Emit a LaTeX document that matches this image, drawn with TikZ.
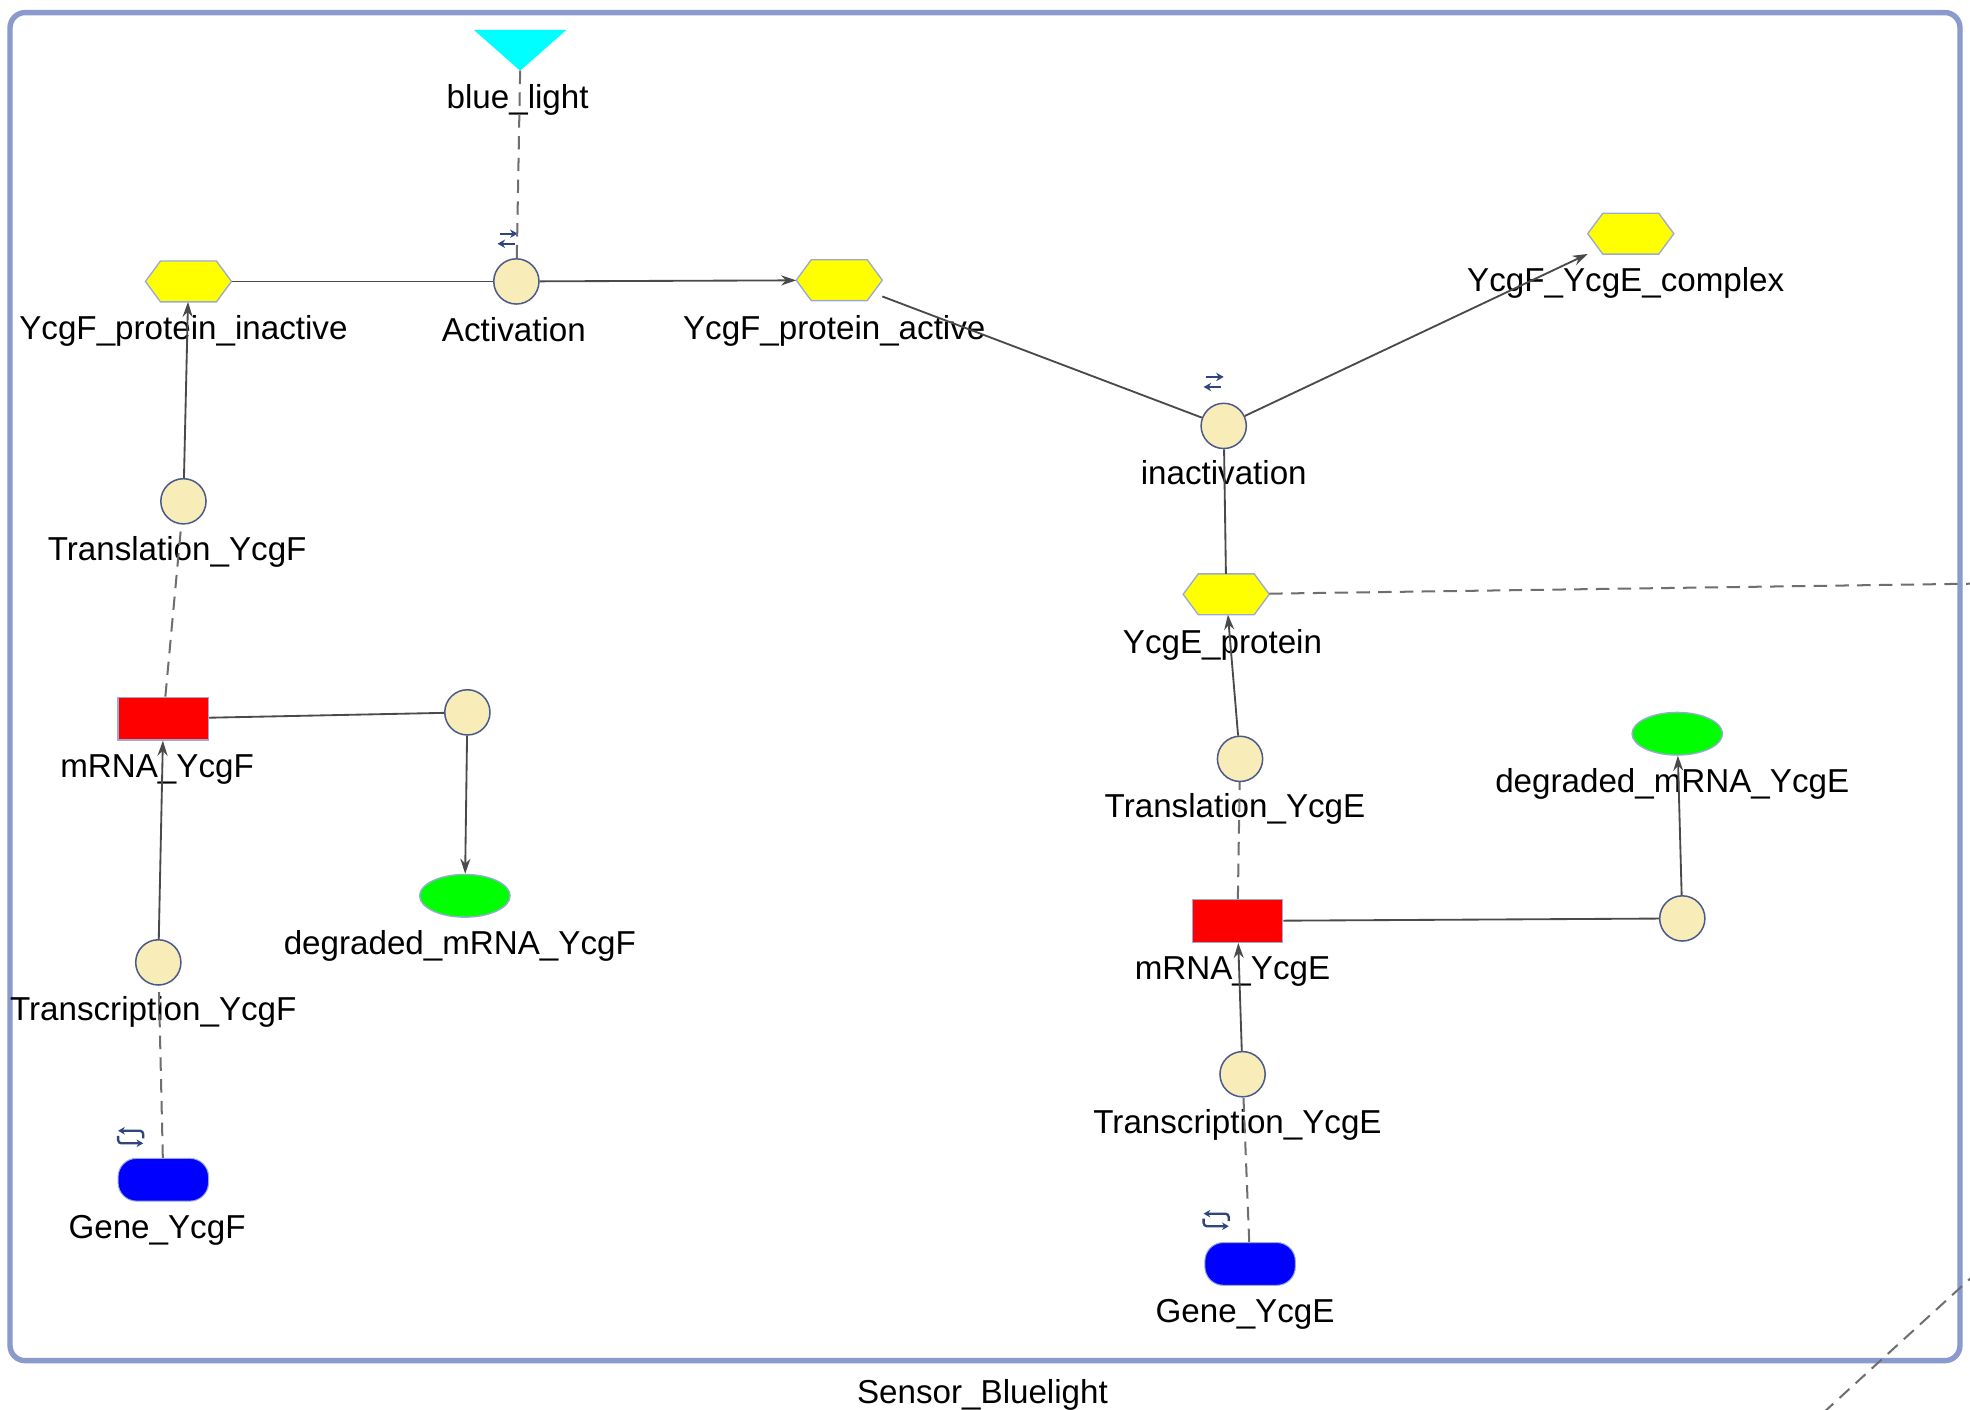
\documentclass[tikz,border=0pt]{standalone}
\usepackage{fontspec}
\setmainfont{Liberation Sans}
\usetikzlibrary{shapes.geometric,arrows.meta}
\definecolor{procfill}{HTML}{F8EDB8}
\definecolor{procborder}{HTML}{4A5A8C}
\definecolor{lightborder}{HTML}{9AAAD8}
\definecolor{edgegray}{HTML}{4A4A4A}
\definecolor{dashgray}{HTML}{6E6E6E}
\definecolor{compborder}{HTML}{8A9ACC}
\definecolor{iconblue}{HTML}{2E4580}
\definecolor{hexyellow}{HTML}{FFFF00}
\definecolor{mrnared}{HTML}{FF0000}
\definecolor{degrgreen}{HTML}{00FF00}
\definecolor{geneblue}{HTML}{0000FF}
\definecolor{lightcyan}{HTML}{00FFFF}
\tikzset{
  proc/.style={circle, draw=procborder, fill=procfill, line width=0.9pt, minimum size=27pt, inner sep=0pt},
  hexbox/.style={rectangle, minimum width=51pt, minimum height=24pt, inner sep=0pt},
  hexline/.style={draw=lightborder, fill=hexyellow, line width=0.8pt},
  mrna/.style={rectangle, draw=lightborder, fill=mrnared, line width=0.8pt, minimum width=54pt, minimum height=25.5pt, inner sep=0pt},
  degr/.style={ellipse, draw=lightborder, fill=degrgreen, line width=0.8pt, minimum width=54pt, minimum height=25.5pt, inner sep=0pt},
  genebox/.style={rectangle, rounded corners=11pt, draw=lightborder, fill=geneblue, line width=0.6pt, minimum width=54pt, minimum height=25.5pt, inner sep=0pt},
  trianglebox/.style={rectangle, minimum width=55pt, minimum height=24pt, inner sep=0pt},
  lbl/.style={font=\fontsize{19.8}{22}\selectfont, text=black, inner sep=0pt, anchor=base},
  flow/.style={draw=edgegray, line width=1.1pt},
  prod/.style={flow, -{Stealth[length=9pt,width=6pt]}},
  modif/.style={draw=dashgray, line width=1.2pt, dash pattern=on 8pt off 5pt},
  iconst/.style={draw=iconblue, line width=1.4pt},
}
\newcommand{\hexat}[2]{%
  \node[hexbox] (#1) at (#2) {};
  \path[hexline] (#1.west) -- ([xshift=9pt]#1.north west) -- ([xshift=-9pt]#1.north east)
     -- (#1.east) -- ([xshift=-9pt]#1.south east) -- ([xshift=9pt]#1.south west) -- cycle;}
\newcommand{\revicon}[1]{%
  \begin{scope}[shift={(#1)}]
    \draw[iconst, -{Stealth[length=4.5pt,width=5pt]}] (-6,-4) -- (8,-4);
    \draw[iconst, -{Stealth[length=4.5pt,width=5pt]}] (6,4) -- (-8,4);
  \end{scope}}
\newcommand{\geneicon}[1]{%
  \begin{scope}[shift={(#1)}]
    \draw[iconst, rounded corners=2pt, -{Stealth[length=4pt,width=4.5pt]}] (10,1) -- (10,-5) -- (-10,-5);
    \draw[iconst, rounded corners=2pt, -{Stealth[length=4pt,width=4.5pt]}] (-10,-1) -- (-10,5) -- (10,5);
  \end{scope}}
\begin{document}
\begin{tikzpicture}[x=0.75pt,y=-0.75pt]
\useasboundingbox (0,0) rectangle (1568,1122);
\fill[white] (0,0) rectangle (1568,1122);
% compartment
\draw[compborder, line width=3.2pt, rounded corners=9pt] (8,10) rectangle (1560,1083);
\node[lbl] (comp) at (782,1117) {Sensor\_Bluelight};

% nodes
\node[trianglebox] (bl) at (414,40) {};
\path[fill=lightcyan] (bl.north west) -- (bl.north east) -- (bl.south) -- cycle;
\node[proc] (act) at (411,224) {};
\hexat{inact}{150,224}
\hexat{active}{668,223}
\hexat{complex}{1298,186}
\node[proc] (inactv) at (974,339) {};
\hexat{ycge}{976,473}
\node[proc] (trlF) at (146,399) {};
\node[mrna] (mrnaF) at (130,572) {};
\node[proc] (degF) at (372,567) {};
\node[degr] (dmF) at (370,713) {};
\node[proc] (trsF) at (126,766) {};
\node[genebox] (geneF) at (130,939) {};
\node[proc] (trlE) at (987,604) {};
\node[mrna] (mrnaE) at (985,733) {};
\node[proc] (degE) at (1339,731) {};
\node[degr] (dmE) at (1335,584) {};
\node[proc] (trsE) at (989,855) {};
\node[genebox] (geneE) at (995,1006) {};

% labels
\node[lbl] (bl-l) at (412,86) {blue\_light};
\node[lbl] (act-l) at (409,272) {Activation};
\node[lbl] (inact-l) at (146,270) {YcgF\_protein\_inactive};
\node[lbl] (active-l) at (664,270) {YcgF\_protein\_active};
\node[lbl] (complex-l) at (1294,232) {YcgF\_YcgE\_complex};
\node[lbl] (inactv-l) at (974,386) {inactivation};
\node[lbl] (ycge-l) at (973,520) {YcgE\_protein};
\node[lbl] (trlF-l) at (141,446) {Translation\_YcgF};
\node[lbl] (mrnaF-l) at (125,619) {mRNA\_YcgF};
\node[lbl] (dmF-l) at (366,760) {degraded\_mRNA\_YcgF};
\node[lbl] (trsF-l) at (122,812) {Transcription\_YcgF};
\node[lbl] (geneF-l) at (125,986) {Gene\_YcgF};
\node[lbl] (trlE-l) at (983,651) {Translation\_YcgE};
\node[lbl] (dmE-l) at (1331,631) {degraded\_mRNA\_YcgE};
\node[lbl] (mrnaE-l) at (981,780) {mRNA\_YcgE};
\node[lbl] (trsE-l) at (985,902) {Transcription\_YcgE};
\node[lbl] (geneE-l) at (991,1053) {Gene\_YcgE};

% icons
\revicon{404,190}
\revicon{966,304}
\geneicon{104,905}
\geneicon{968,971}

% free ends of connectors leaving the picture
\coordinate (outA) at (1610,464);
\coordinate (outB) at (1600,988.6);
\coordinate (outC) at (1420,1153);

% connectors
\draw[modif] (bl.south) -- (act);
\draw[flow] (inact) -- (act);
\draw[prod] (act) -- (active);
\draw[flow] (active) -- (inactv);
\draw[prod] (inactv) -- (complex);
\draw[flow] (ycge) -- (inactv);
\draw[prod] (trlF) -- (inact);
\draw[modif] (mrnaF) -- (trlF);
\draw[flow] (mrnaF) -- (degF);
\draw[prod] (degF) -- (dmF);
\draw[prod] (trsF) -- (mrnaF);
\draw[modif] (geneF) -- (trsF);
\draw[prod] (trlE) -- (ycge);
\draw[modif] (mrnaE) -- (trlE);
\draw[flow] (mrnaE) -- (degE);
\draw[prod] (degE) -- (dmE);
\draw[prod] (trsE) -- (mrnaE);
\draw[modif] (geneE) -- (trsE);
\draw[modif] (ycge) -- (outA);
\draw[modif] (outB) -- (outC);
\end{tikzpicture}
\end{document}
